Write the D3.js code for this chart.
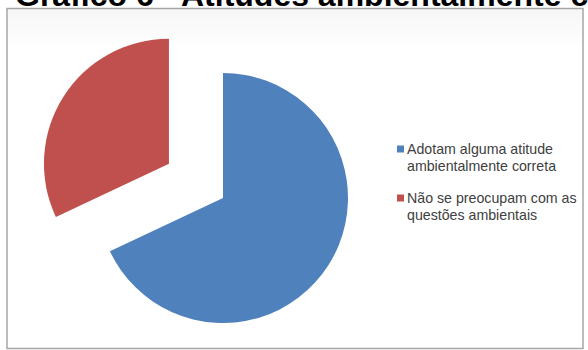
<!DOCTYPE html>
<html>
<head>
<meta charset="utf-8">
<script src="https://cdn.jsdelivr.net/npm/d3@7"></script>
<style>
  html, body { margin: 0; padding: 0; background: #ffffff; }
  svg { display: block; }
</style>
</head>
<body>
<svg id="chart" width="588" height="350"></svg>
<script>
// Survey result: share of respondents by environmental attitude
const categories = ["Adotam alguma atitude ambientalmente correta", "Não se preocupam com as questões ambientais"];
const values = [68, 32];
const legendLines = [
  ["Adotam alguma atitude", "ambientalmente correta"],
  ["Não se preocupam com as", "questões ambientais"]
];
const colors = ["#4F81BD", "#C0504D"];
const titleText = "Gráfico 6 - Atitudes ambientalmente corretas";

const svg = d3.select("#chart");

// Title (sits mostly above the top edge of the page)
svg.append("text")
  .attr("x", 15).attr("y", 5.5)
  .attr("font-family", "Liberation Sans, Arial, sans-serif")
  .attr("font-weight", "bold")
  .attr("font-size", 32)
  .attr("fill", "#000")
  .text(titleText);

// Chart frame
const defs = svg.append("defs");
const grad = defs.append("linearGradient").attr("id", "frameBg")
  .attr("x1", 0).attr("y1", 0).attr("x2", 0).attr("y2", 1);
grad.append("stop").attr("offset", "0%").attr("stop-color", "#f6f6f6");
grad.append("stop").attr("offset", "12%").attr("stop-color", "#ffffff");
grad.append("stop").attr("offset", "100%").attr("stop-color", "#ffffff");

svg.append("rect")
  .attr("x", 7).attr("y", 8.5).attr("width", 576).attr("height", 340)
  .attr("fill", "url(#frameBg)")
  .attr("stroke", "#a6a6a6").attr("stroke-width", 1.5);

// Pie, with the second slice pulled out along its mid-angle
const cx = 223, cy = 198, radius = 125, explode = 64;
const pie = d3.pie().sort(null).value(d => d)(values);
const arc = d3.arc().innerRadius(0).outerRadius(radius);

const g = svg.append("g").attr("transform", `translate(${cx},${cy})`);
g.selectAll("path")
  .data(pie)
  .join("path")
  .attr("d", arc)
  .attr("fill", (d, i) => colors[i])
  .attr("transform", (d, i) => {
    if (i !== 1) return null;
    const mid = (d.startAngle + d.endAngle) / 2;
    return `translate(${Math.sin(mid) * explode},${-Math.cos(mid) * explode})`;
  });

// Legend
const legend = svg.append("g").attr("transform", "translate(397,149)");
const items = legend.selectAll("g")
  .data(legendLines)
  .join("g")
  .attr("transform", (d, i) => `translate(0,${i * 49})`);
items.append("rect")
  .attr("x", 0).attr("y", -3.5).attr("width", 7).attr("height", 7)
  .attr("fill", (d, i) => colors[i]);
items.each(function(lines) {
  const t = d3.select(this).append("text")
    .attr("font-family", "Liberation Sans, Arial, sans-serif")
    .attr("font-size", 14.2)
    .attr("fill", "#404040");
  lines.forEach((line, j) => {
    t.append("tspan").attr("x", 10).attr("y", j * 17 + 4.5).text(line);
  });
});
</script>
</body>
</html>
